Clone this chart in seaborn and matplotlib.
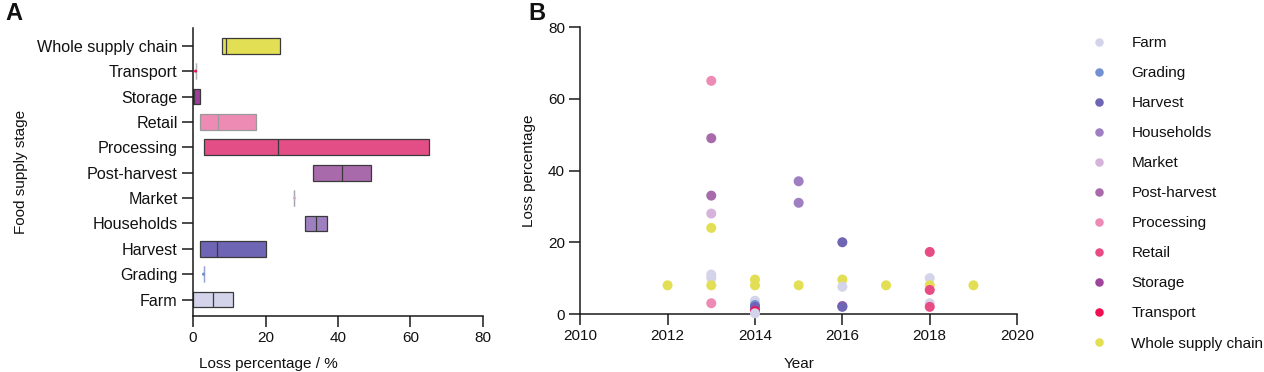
import numpy as np
import pandas as pd
import seaborn as sns
import matplotlib.pyplot as plt

# panel A: floating bars (min to max) with median line, top to bottom
stages = ["Whole supply chain", "Transport", "Storage", "Retail", "Processing",
          "Post-harvest", "Market", "Households", "Harvest", "Grading", "Farm"]
loss_min = [8, 0.7, 0, 2, 3, 33, 28, 31, 2, 2.9, 0]
loss_med = [9, 0.7, 0.4, 7, 23.5, 41, 28, 34, 6.5, 2.9, 5.6]
loss_max = [24, 0.7, 2, 17.3, 65, 49, 28, 37, 20, 2.9, 11]
bar_colors = ["#e3df55", "#ee1050", "#9c3f99", "#ee8bb5", "#e34e86", "#a86aab",
              "#d4b0d8", "#9e7fc1", "#6f65b5", "#6f8fd0", "#d3d3ea"]
edge_colors = ["#3a3a3a", "#b4b4b4", "#3a3a3a", "#9a9a9a", "#3a3a3a", "#3a3a3a",
               "#aaa2b2", "#3a3a3a", "#3a3a3a", "#97a2d6", "#3a3a3a"]

# panel B: individual reports by year
years = [2012,
         2013, 2013, 2013, 2013, 2013, 2013, 2013, 2013, 2013,
         2014, 2014, 2014, 2014, 2014, 2014, 2014, 2014,
         2015, 2015, 2015,
         2016, 2016, 2016, 2016, 2016,
         2017,
         2018, 2018, 2018, 2018, 2018, 2018,
         2019]
losses = [8,
          65, 49, 33, 28, 24, 11, 10, 8, 3,
          9.6, 8, 3.7, 2.5, 2, 1, 0.7, 0.2,
          37, 31, 8,
          20, 9.6, 7.6, 2.2, 2,
          8,
          17.3, 10, 8, 6.7, 3, 2,
          8]
point_stage = ["Whole supply chain",
               "Processing", "Post-harvest", "Post-harvest", "Market", "Whole supply chain",
               "Farm", "Farm", "Whole supply chain", "Processing",
               "Whole supply chain", "Whole supply chain", "Farm", "Grading", "Harvest",
               "Storage", "Transport", "Farm",
               "Households", "Households", "Whole supply chain",
               "Harvest", "Whole supply chain", "Farm", "Storage", "Harvest",
               "Whole supply chain",
               "Retail", "Farm", "Whole supply chain", "Retail", "Farm", "Retail",
               "Whole supply chain"]
legend_order = ["Farm", "Grading", "Harvest", "Households", "Market", "Post-harvest",
                "Processing", "Retail", "Storage", "Transport", "Whole supply chain"]
point_palette = {"Farm": "#d3d3ea", "Grading": "#7391d2", "Harvest": "#6f65b5",
                 "Households": "#9e80c2", "Market": "#d6b3da", "Post-harvest": "#a86aab",
                 "Processing": "#ee8bb5", "Retail": "#e84c84", "Storage": "#a0459c",
                 "Transport": "#ee1050", "Whole supply chain": "#e3df55"}

sns.set_style("ticks")
plt.rcParams["font.family"] = ["Liberation Sans", "DejaVu Sans"]
plt.rcParams["font.size"] = 11
plt.rcParams["text.color"] = "#111111"
plt.rcParams["axes.labelcolor"] = "#111111"
plt.rcParams["axes.linewidth"] = 1.1
plt.rcParams["axes.edgecolor"] = "#1a1a1a"
for ax_name in ["xtick", "ytick"]:
    plt.rcParams[f"{ax_name}.major.size"] = 8
    plt.rcParams[f"{ax_name}.major.width"] = 1.1
    plt.rcParams[f"{ax_name}.major.pad"] = 3
    plt.rcParams[f"{ax_name}.color"] = "#1a1a1a"
    plt.rcParams[f"{ax_name}.labelcolor"] = "#111111"
    plt.rcParams[f"{ax_name}.labelsize"] = 11

fig = plt.figure(figsize=(12.64, 3.72), dpi=100)
axA = fig.add_axes([0.1527, 0.1505, 0.2294, 0.7742])
axB = fig.add_axes([0.4590, 0.1559, 0.3457, 0.7715])

# ---- A
df_a = pd.DataFrame({"stage": stages, "lo": loss_min, "med": loss_med, "hi": loss_max})
df_a["span"] = df_a["hi"] - df_a["lo"]
sns.barplot(data=df_a, x="span", y="stage", order=stages, left=df_a["lo"].values,
            width=0.62, color="white", errorbar=None, linewidth=0.9, ax=axA)
for patch, fc, ec in zip(axA.patches, bar_colors, edge_colors):
    patch.set_facecolor(fc)
    patch.set_edgecolor(ec)
ypos = np.arange(len(stages))
axA.vlines(df_a["med"], ypos - 0.31, ypos + 0.31, colors=edge_colors, lw=0.9, zorder=3)
# single-report stages: show the point itself
single = df_a["span"] == 0
axA.scatter(df_a.loc[single, "med"], ypos[single.values], s=5,
            c=[bar_colors[i] for i in np.where(single)[0]], zorder=4, linewidths=0)
axA.set_xlim(0, 80)
axA.set_xticks([0, 20, 40, 60, 80])
axA.set_ylim(10.65, -0.7)
axA.tick_params(axis="y", labelsize=11.6)
axA.set_xlabel("Loss percentage / %")
axA.set_ylabel("Food supply stage")
axA.xaxis.set_label_coords(0.259, -0.142)
axA.yaxis.set_label_coords(-0.57, 0.5)
sns.despine(ax=axA)

# ---- B
df_b = pd.DataFrame({"year": years, "loss": losses, "stage": point_stage})
sns.scatterplot(data=df_b, x="year", y="loss", hue="stage", hue_order=legend_order,
                palette=point_palette, s=52, linewidth=0, clip_on=False, zorder=3, ax=axB)
handles, labels = axB.get_legend_handles_labels()
axB.get_legend().remove()
fig.legend(handles, labels, loc="upper left", bbox_to_anchor=(0.8576, 0.903),
           frameon=False, borderpad=0, borderaxespad=0, labelspacing=1.05,
           handletextpad=1.1, handlelength=2.0, markerscale=0.85, fontsize=11)
axB.set_xlim(2010, 2020)
axB.set_ylim(0, 80)
axB.set_xticks(range(2010, 2021, 2))
axB.set_yticks([0, 20, 40, 60, 80])
axB.set_xlabel("Year")
axB.set_ylabel("Loss percentage")
axB.xaxis.set_label_coords(0.5, -0.15)
axB.yaxis.set_label_coords(-0.10, 0.5)
sns.despine(ax=axB)

fig.text(0.004, 0.995, "A", fontsize=17, fontweight="bold", va="top", ha="left")
fig.text(0.418, 0.995, "B", fontsize=17, fontweight="bold", va="top", ha="left")

fig.savefig("out.png", dpi=100)
